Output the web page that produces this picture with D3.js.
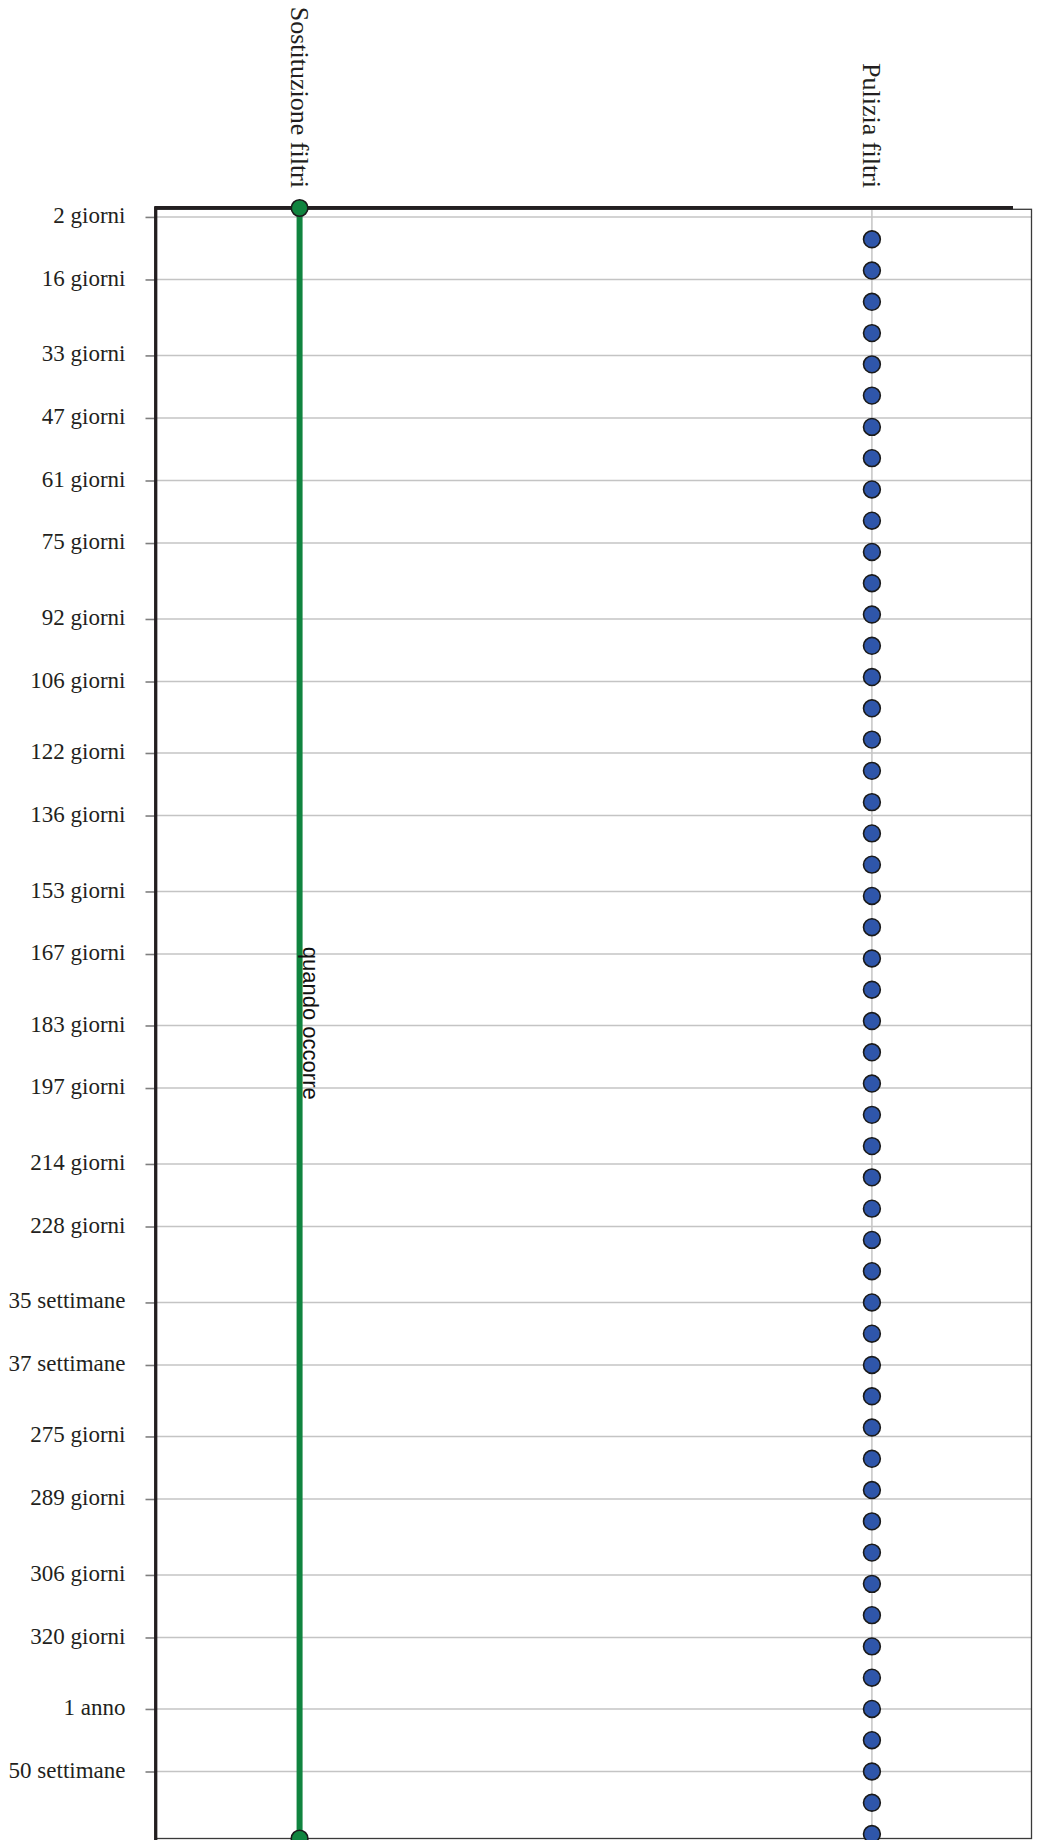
<!DOCTYPE html>
<html>
<head>
<meta charset="utf-8">
<script src="https://cdn.jsdelivr.net/npm/d3@7"></script>
<style>
  html, body { margin: 0; padding: 0; background: #ffffff; }
  svg { display: block; }
</style>
</head>
<body>
<svg id="chart" width="1037" height="1840"></svg>
<script>
// ---------------- data ----------------
const categories = ["Sostituzione filtri", "Pulizia filtri"];
const domainDays = [0, 365];
const tickDays = [2, 16, 33, 47, 61, 75, 92, 106, 122, 136, 153, 167, 183, 197, 214, 228, 245, 259, 275, 289, 306, 320, 336, 350];
const tickLabels = ["2 giorni", "16 giorni", "33 giorni", "47 giorni", "61 giorni", "75 giorni", "92 giorni", "106 giorni",
  "122 giorni", "136 giorni", "153 giorni", "167 giorni", "183 giorni", "197 giorni", "214 giorni", "228 giorni",
  "35 settimane", "37 settimane", "275 giorni", "289 giorni", "306 giorni", "320 giorni", "1 anno", "50 settimane"];
// Sostituzione filtri: continuous span, "quando occorre"
const replacementSpan = [0, 365];
const replacementNote = "quando occorre";
// Pulizia filtri: weekly events (days)
const cleaningDays = [7, 14, 21, 28, 35, 42, 49, 56, 63, 70, 77, 84, 91, 98, 105, 112, 119, 126, 133, 140,
  147, 154, 161, 168, 175, 182, 189, 196, 203, 210, 217, 224, 231, 238, 245, 252, 259, 266, 273, 280,
  287, 294, 301, 308, 315, 322, 329, 336, 343, 350, 357, 364];

(function () {
  // ---------------- layout ----------------
  const plotLeft = 156, plotTop = 208, plotBottom = 1838.5, frameRight = 1031.5, axisRight = 1013;
  const svg = d3.select("#chart");

  const x = d3.scalePoint().domain(categories).range([156.5, 1015]).padding(0.25);
  const y = d3.scaleLinear().domain(domainDays).range([plotTop, plotBottom]);

  const gridColor = "#c4c4c4";
  const dark = "#231f20";
  const green = "#10843f";
  const blue = "#2f56aa";

  // gridlines
  svg.append("g").selectAll("line").data(tickDays).join("line")
    .attr("x1", plotLeft).attr("x2", frameRight)
    .attr("y1", d => y(d)).attr("y2", d => y(d))
    .attr("stroke", gridColor).attr("stroke-width", 1.5);

  // vertical category guide for Pulizia
  svg.append("line")
    .attr("x1", x("Pulizia filtri")).attr("x2", x("Pulizia filtri"))
    .attr("y1", plotTop + 1.5).attr("y2", plotBottom)
    .attr("stroke", gridColor).attr("stroke-width", 1.5);

  // thin frame
  svg.append("rect")
    .attr("x", plotLeft).attr("y", plotTop + 1.3)
    .attr("width", frameRight - plotLeft).attr("height", plotBottom - plotTop - 1.3)
    .attr("fill", "none").attr("stroke", "#3a3a3a").attr("stroke-width", 1.3);

  // thick top axis line
  svg.append("line")
    .attr("x1", plotLeft - 1.5).attr("x2", axisRight)
    .attr("y1", plotTop - 0.2).attr("y2", plotTop - 0.2)
    .attr("stroke", dark).attr("stroke-width", 3.6);

  // left axis via d3.axisLeft
  const yAxis = d3.axisLeft(y)
    .tickValues(tickDays)
    .tickFormat((d, i) => tickLabels[i])
    .tickSize(10)
    .tickPadding(20);
  const gA = svg.append("g").attr("transform", `translate(${plotLeft - 0.5},0)`).call(yAxis);
  gA.select(".domain").remove();
  gA.selectAll(".tick line").attr("stroke", "#7f7f7f").attr("stroke-width", 1.6);
  gA.selectAll(".tick text")
    .attr("fill", dark)
    .attr("dy", "0.24em")
    .style("font-family", "'Liberation Serif', 'Times New Roman', serif")
    .style("font-size", "23px");

  // thick left axis line
  svg.append("line")
    .attr("x1", plotLeft - 0.3).attr("x2", plotLeft - 0.3)
    .attr("y1", plotTop - 1.5).attr("y2", 1840)
    .attr("stroke", dark).attr("stroke-width", 3.3);

  // Sostituzione filtri: green span
  const gx = x("Sostituzione filtri");
  svg.append("line")
    .attr("x1", gx).attr("x2", gx)
    .attr("y1", y(replacementSpan[0])).attr("y2", y(replacementSpan[1]))
    .attr("stroke", green).attr("stroke-width", 6);
  svg.append("g").selectAll("circle").data(replacementSpan).join("circle")
    .attr("cx", gx).attr("cy", d => y(d)).attr("r", 8.3)
    .attr("fill", green).attr("stroke", "#1a1a1a").attr("stroke-width", 1.6);

  svg.append("text")
    .attr("transform", `translate(${gx + 3},${y((replacementSpan[0] + replacementSpan[1]) / 2)}) rotate(90)`)
    .attr("text-anchor", "middle")
    .attr("fill", "#111")
    .style("font-family", "'Liberation Sans', Arial, sans-serif")
    .style("font-size", "22px")
    .text(replacementNote);

  // Pulizia filtri: weekly dots
  const bx = x("Pulizia filtri");
  svg.append("g").selectAll("circle").data(cleaningDays).join("circle")
    .attr("cx", bx).attr("cy", d => y(d)).attr("r", 8.4)
    .attr("fill", blue).attr("stroke", "#1a1a1a").attr("stroke-width", 1.6);

  // column titles (rotated)
  svg.append("g").selectAll("text").data(categories).join("text")
    .attr("transform", d => `translate(${x(d) - 9},${plotTop - 20}) rotate(90)`)
    .attr("text-anchor", "end")
    .attr("fill", dark)
    .style("font-family", "'Liberation Serif', 'Times New Roman', serif")
    .style("font-size", "26px")
    .text(d => d);
})();
</script>
</body>
</html>
